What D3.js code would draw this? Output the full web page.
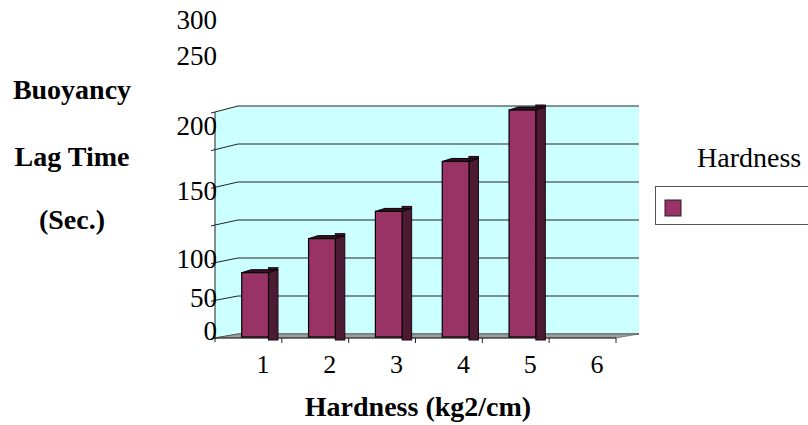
<!DOCTYPE html>
<html>
<head>
<meta charset="utf-8">
<script src="https://d3js.org/d3.v7.min.js"></script>
<style>
    body { margin: 0; background: #fff; }
</style>
</head>
<body>
<script>
//chart data
var categories = ["1", "2", "3", "4", "5", "6"];
var lagTimes = [85, 130, 166, 232, 300, null];
var yTicks = [0, 50, 100, 150, 200, 250, 300];
var yTitle = ["Buoyancy", "Lag Time", "(Sec.)"];
var xTitle = "Hardness (kg2/cm)";
var seriesName = "Hardness";

var serifFont = "'Liberation Serif', Tinos, serif";

//begin script when window loads
window.onload = drawChart();

function drawChart(){

    var width = 808,
        height = 425;

    var svg = d3.select("body")
        .append("svg")
        .attr("width", width)
        .attr("height", height)
        .style("font-family", serifFont, "important");

    //depth offset of the 3d box (front -> back)
    var depthX = 23;

    //category scale along the front edge
    var x = d3.scaleBand()
        .domain(categories)
        .range([215, 616]);

    //value scales for the front edge, back wall and bars
    var yFront = d3.scaleLinear().domain([0, 300]).range([338, 112]);
    var yBack = d3.scaleLinear().domain([0, 300]).range([334, 106]);
    var yBar = d3.scaleLinear().domain([0, 300]).range([337, 110]);

    //tick labels sit where the original picture put them
    var yLabel = d3.scaleLinear()
        .domain(yTicks)
        .range([340, 307, 268, 200, 135, 65, 29]);

    var x0 = x.range()[0],
        x1 = x.range()[1];

    //back wall
    svg.append("rect")
        .attr("x", x0 + depthX)
        .attr("y", yBack(300))
        .attr("width", x1 - x0)
        .attr("height", yBack(0) - yBack(300))
        .attr("fill", "#ccffff");

    //left wall
    svg.append("polygon")
        .attr("points", [
            [x0, yFront(300)], [x0 + depthX, yBack(300)],
            [x0 + depthX, yBack(0)], [x0, yFront(0)]
        ].join(" "))
        .attr("fill", "#ccffff");

    //gridlines on both walls
    svg.selectAll(".grid")
        .data(yTicks)
        .enter()
        .append("polyline")
        .attr("class", "grid")
        .attr("points", function(d){
            return [[x0 - 4, yFront(d) + 1], [x0, yFront(d)], [x0 + depthX, yBack(d)], [x1 + depthX, yBack(d)]].join(" ");
        })
        .attr("fill", "none")
        .attr("stroke", "#222")
        .attr("stroke-width", 1);

    //floor
    svg.append("polygon")
        .attr("points", [
            [x0, yFront(0)], [x1, yFront(0)],
            [x1 + depthX, yBack(0)], [x0 + depthX, yBack(0)]
        ].join(" "))
        .attr("fill", "#9c9c9c")
        .attr("stroke", "#555")
        .attr("stroke-width", 0.6);

    //axis lines
    svg.append("line")
        .attr("x1", x0).attr("x2", x0)
        .attr("y1", yFront(300)).attr("y2", yFront(0) + 4)
        .attr("stroke", "#222");
    svg.append("line")
        .attr("x1", x0).attr("x2", x1)
        .attr("y1", yFront(0)).attr("y2", yFront(0))
        .attr("stroke", "#222");

    //x ticks at category boundaries
    svg.selectAll(".xtick")
        .data(categories)
        .enter()
        .append("line")
        .attr("class", "xtick")
        .attr("x1", function(d){ return x(d) + x.bandwidth(); })
        .attr("x2", function(d){ return x(d) + x.bandwidth(); })
        .attr("y1", yFront(0))
        .attr("y2", yFront(0) + 5)
        .attr("stroke", "#222");

    //bars
    var barData = categories.map(function(c, i){ return {cat: c, value: lagTimes[i]}; })
        .filter(function(d){ return d.value != null; });

    var bw = x.bandwidth() * 0.4,
        sideW = 9.5;

    var bars = svg.selectAll(".bar")
        .data(barData)
        .enter()
        .append("g")
        .attr("class", "bar");

    //side face
    bars.append("rect")
        .attr("x", function(d){ return x(d.cat) + x.bandwidth() * 0.4 + bw; })
        .attr("y", function(d){ return yBar(d.value) - 5; })
        .attr("width", sideW)
        .attr("height", function(d){ return yBar(0) - yBar(d.value) + 8; })
        .attr("fill", "#4d1a33")
        .attr("stroke", "#1a0510")
        .attr("stroke-width", 1);

    //top face
    bars.append("polygon")
        .attr("points", function(d){
            var left = x(d.cat) + x.bandwidth() * 0.4,
                top = yBar(d.value);
            return [[left, top], [left + sideW, top - 3], [left + bw + sideW, top - 3], [left + bw, top]].join(" ");
        })
        .attr("fill", "#3a0f24")
        .attr("stroke", "#000")
        .attr("stroke-width", 1);

    //front face
    bars.append("rect")
        .attr("x", function(d){ return x(d.cat) + x.bandwidth() * 0.4; })
        .attr("y", function(d){ return yBar(d.value); })
        .attr("width", bw)
        .attr("height", function(d){ return yBar(0) - yBar(d.value); })
        .attr("fill", "#993366")
        .attr("stroke", "#000")
        .attr("stroke-width", 1.2);

    //y tick labels
    svg.selectAll(".ylabel")
        .data(yTicks)
        .enter()
        .append("text")
        .attr("class", "ylabel")
        .attr("x", 217)
        .attr("y", function(d){ return yLabel(d); })
        .attr("text-anchor", "end")
        .style("font-family", serifFont, "important")
        .style("font-size", "27px")
        .text(function(d){ return d; });

    //x tick labels
    svg.selectAll(".xlabel")
        .data(categories)
        .enter()
        .append("text")
        .attr("class", "xlabel")
        .attr("x", function(d){ return x(d) + x.bandwidth() / 2 + 14.5; })
        .attr("y", 373)
        .attr("text-anchor", "middle")
        .style("font-family", serifFont, "important")
        .style("font-size", "26px")
        .text(function(d){ return d; });

    //axis titles
    svg.selectAll(".ytitle")
        .data(yTitle)
        .enter()
        .append("text")
        .attr("class", "ytitle")
        .attr("x", 72)
        .attr("y", function(d, i){ return [99, 166, 229][i]; })
        .attr("text-anchor", "middle")
        .style("font-family", serifFont, "important")
        .style("font-weight", "bold")
        .style("font-size", "28px")
        .text(function(d){ return d; });

    svg.append("text")
        .attr("x", 418)
        .attr("y", 416)
        .attr("text-anchor", "middle")
        .style("font-family", serifFont, "important")
        .style("font-weight", "bold")
        .style("font-size", "28px")
        .text(xTitle);

    //legend
    svg.append("text")
        .attr("x", 697)
        .attr("y", 167)
        .style("font-family", serifFont, "important")
        .style("font-size", "28px")
        .text(seriesName);

    svg.append("rect")
        .attr("x", 655.5)
        .attr("y", 186.5)
        .attr("width", 200)
        .attr("height", 38)
        .attr("fill", "#fff")
        .attr("stroke", "#555");

    svg.append("rect")
        .attr("x", 665)
        .attr("y", 200)
        .attr("width", 16)
        .attr("height", 16)
        .attr("fill", "#993366")
        .attr("stroke", "#222");
};
</script>
</body>
</html>
